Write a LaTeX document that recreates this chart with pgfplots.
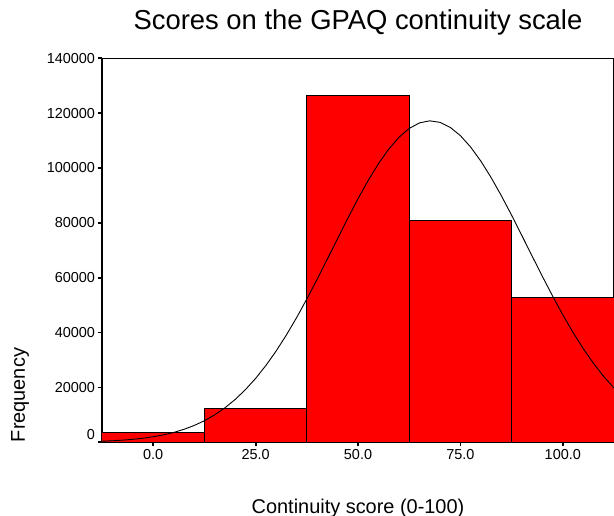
\documentclass[border=0pt]{standalone}
\usepackage{pgfplots}
\pgfplotsset{compat=1.18}
\usepackage{fontspec}
\setmainfont{Liberation Sans}
\begin{document}
\begin{tikzpicture}
\useasboundingbox (-102bp,-73.7bp) rectangle (512bp,442.3bp);
\begin{axis}[
  at={(0,0)}, anchor=south west,
  width=512bp, height=384bp, scale only axis,
  xmin=-12.5, xmax=112.5, ymin=0, ymax=140000,
  xtick={0,25,50,75,100},
  xticklabels={0.0,25.0,50.0,75.0,100.0},
  ytick={0,20000,40000,60000,80000,100000,120000,140000},
  yticklabels={\raisebox{8bp}[\height][\depth]{0},20000,40000,60000,80000,100000,120000,140000},
  scaled y ticks=false,
  /pgf/number format/assume math mode=true,
  tick align=outside,
  major tick length=3.5bp,
  tick style={line width=1.8bp, black},
  xtick pos=bottom, ytick pos=left,
  axis line style={line width=1.1bp, black},
  ticklabel style={font=\fontsize{14.5}{16}\selectfont},
  title={Scores on the GPAQ continuity scale},
  title style={at={(axis description cs:0.5,1.0607)}, anchor=base, font=\fontsize{27.5}{30}\selectfont},
  xlabel={Continuity score (0-100)},
  xlabel style={at={(axis description cs:0.5,-0.1849)}, anchor=base, font=\fontsize{20}{22}\selectfont},
  ylabel={Frequency},
  ylabel style={at={(axis description cs:-0.1504,0.123)}, anchor=base, rotate=0, font=\fontsize{20}{22}\selectfont},
  clip=true,
]
\addplot[ybar interval, fill=red, draw=black, line width=1bp] coordinates {
  (-12.5,3640) (12.5,12360) (37.5,126300) (62.5,80730) (87.5,52950) (112.5,52950)
};
\addplot[black, line width=0.9bp, mark=none] coordinates {
  (-12.5,391) (-10,556) (-7.5,780) (-5,1082) (-2.5,1485) (0,2016) (2.5,2706) (5,3593)
  (7.5,4718) (10,6128) (12.5,7868) (15,9995) (17.5,12553) (20,15600) (22.5,19160)
  (25,23290) (27.5,27970) (30,33250) (32.5,39080) (35,45420) (37.5,52220) (40,59360)
  (42.5,66760) (45,74220) (47.5,81630) (50,88780) (52.5,95490) (55,101590) (57.5,106870)
  (60,111200) (62.5,114420) (65,116450) (67.5,117200) (70,116650) (72.5,114830)
  (75,111800) (77.5,107640) (80,102490) (82.5,96510) (85,89890) (87.5,82790) (90,75420)
  (92.5,67940) (95,60530) (97.5,53340) (100,46480) (102.5,40060) (105,34140)
  (107.5,28780) (110,23990) (112.5,19780)
};
\end{axis}
\end{tikzpicture}
\end{document}
